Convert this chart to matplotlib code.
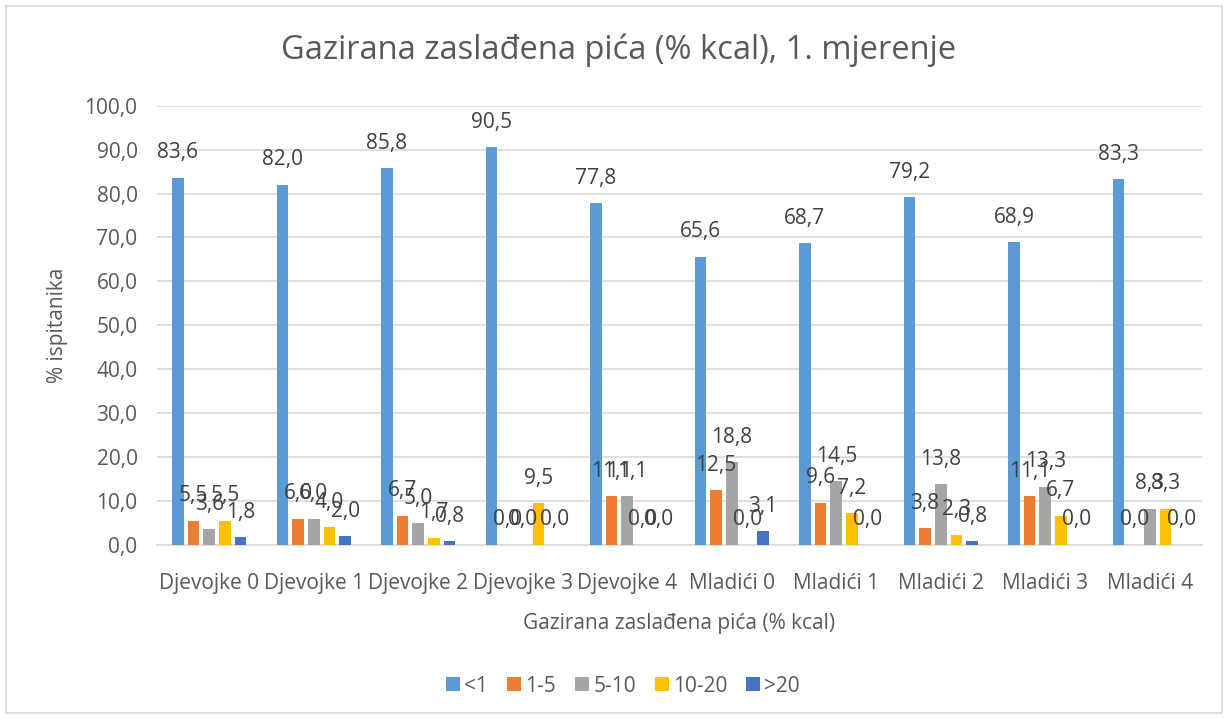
import matplotlib
matplotlib.use("Agg")
import matplotlib.pyplot as plt
import numpy as np
from matplotlib.patches import Rectangle

categories = ["Djevojke 0", "Djevojke 1", "Djevojke 2", "Djevojke 3", "Djevojke 4",
              "Mladići 0", "Mladići 1", "Mladići 2", "Mladići 3", "Mladići 4"]
series_names = ["<1", "1-5", "5-10", "10-20", ">20"]
s_lt1 = [83.6, 82.0, 85.8, 90.5, 77.8, 65.6, 68.7, 79.2, 68.9, 83.3]
s_1_5 = [5.5, 6.0, 6.7, 0.0, 11.1, 12.5, 9.6, 3.8, 11.1, 0.0]
s_5_10 = [3.6, 6.0, 5.0, 0.0, 11.1, 18.8, 14.5, 13.8, 13.3, 8.3]
s_10_20 = [5.5, 4.0, 1.7, 9.5, 0.0, 0.0, 7.2, 2.3, 6.7, 8.3]
s_gt20 = [1.8, 2.0, 0.8, 0.0, 0.0, 3.1, 0.0, 0.8, 0.0, 0.0]
yticks = [0, 10, 20, 30, 40, 50, 60, 70, 80, 90, 100]

series = [s_lt1, s_1_5, s_5_10, s_10_20, s_gt20]
colors = ["#5B9BD5", "#ED7D31", "#A5A5A5", "#FFC000", "#4472C4"]
txt = "#595959"

plt.rcParams['font.family'] = ['Open Sans', 'DejaVu Sans']

W, H = 1229, 719
fig = plt.figure(figsize=(W / 100, H / 100), dpi=100)
fig.patches.append(Rectangle((6 / W, 6 / H), (1222 - 6) / W, (713 - 6) / H,
                             transform=fig.transFigure, fill=False,
                             edgecolor="#D9D9D9", linewidth=1.2))

x0, x1 = 157, 1202
y_top, y_bot = 105.7, 545
ax = fig.add_axes([x0 / W, 1 - y_bot / H, (x1 - x0) / W, (y_bot - y_top) / H])

x = np.arange(len(categories))
step = 0.15
width = 0.112
for i, (vals, name, c) in enumerate(zip(series, series_names, colors)):
    pos = x + (i - 2) * step
    ax.bar(pos, vals, width=width, color=c, label=name, zorder=3)
    for p, v in zip(pos, vals):
        ax.annotate(f"{v:.1f}".replace(".", ","), (p, v), xytext=(0, 18),
                    textcoords="offset points", ha="center", va="center",
                    fontsize=15, color="#404040", zorder=4)

ax.set_xlim(-0.5, len(categories) - 0.5)
ax.set_ylim(0, 100)
ax.set_yticks(yticks)
ax.set_yticklabels([f"{t:.1f}".replace(".", ",") for t in yticks])
ax.set_xticks(x)
ax.set_xticklabels(categories)
ax.tick_params(axis="both", length=0, labelsize=15, colors=txt)
ax.tick_params(axis="x", pad=20)
ax.tick_params(axis="y", pad=14)
ax.grid(axis="y", color="#D9D9D9", linewidth=1.2, zorder=0)
for s in ["top", "right", "left"]:
    ax.spines[s].set_visible(False)
ax.spines["bottom"].set_color("#D9D9D9")
ax.spines["bottom"].set_linewidth(1.2)

ax.set_xlabel("Gazirana zaslađena pića (% kcal)", fontsize=15, color=txt, labelpad=14)
ax.set_ylabel("% ispitanika", fontsize=15, color=txt, labelpad=12)

fig.text(0.5 * (283 + 955) / W, 1 - 50 / H, "Gazirana zaslađena pića (% kcal), 1. mjerenje",
         ha="center", va="center", fontsize=23.5, color=txt)

leg = fig.legend(loc="center", bbox_to_anchor=(623 / W, 1 - 686 / H), ncol=5,
                 frameon=False, fontsize=15, handlelength=0.68, handleheight=0.68,
                 columnspacing=0.9, handletextpad=0.2)
for t in leg.get_texts():
    t.set_color(txt)

fig.savefig("out.png", dpi=100)
